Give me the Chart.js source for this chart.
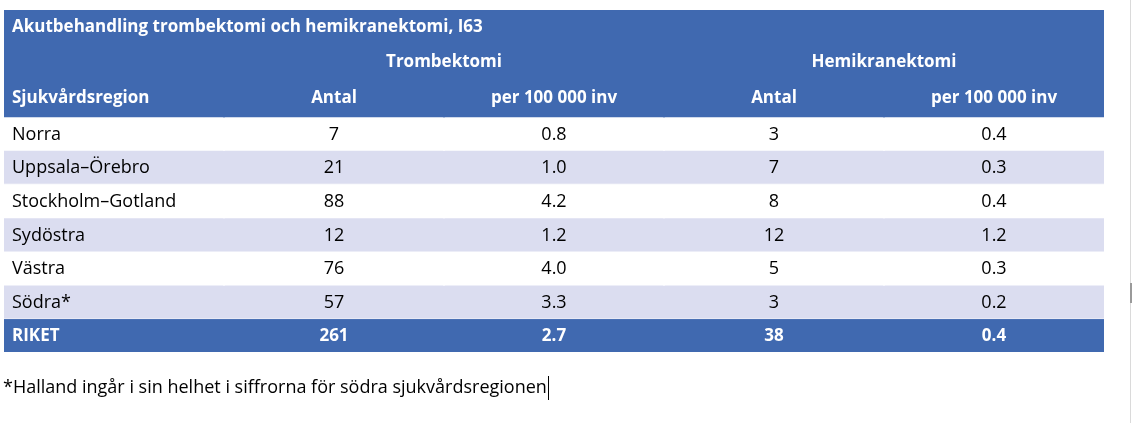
<!DOCTYPE html>
<html>
<head>
<meta charset="utf-8">
<script src="https://cdn.jsdelivr.net/npm/chart.js@4/dist/chart.umd.min.js"></script>
<style>
  html, body { margin: 0; padding: 0; background: #fff; }
  canvas { display: block; }
</style>
</head>
<body>
<canvas id="tableChart" width="1132" height="423"></canvas>
<script>
// Table data
const tableTitle = "Akutbehandling trombektomi och hemikranektomi, I63";
const groups = ["Trombektomi", "Hemikranektomi"];
const columns = ["Sjukvårdsregion", "Antal", "per 100 000 inv", "Antal", "per 100 000 inv"];
const regions = ["Norra", "Uppsala–Örebro", "Stockholm–Gotland", "Sydöstra", "Västra", "Södra*", "RIKET"];
const trombAntal = [7, 21, 88, 12, 76, 57, 261];
const trombPer = [0.8, 1.0, 4.2, 1.2, 4.0, 3.3, 2.7];
const hemiAntal = [3, 7, 8, 12, 5, 3, 38];
const hemiPer = [0.4, 0.3, 0.4, 1.2, 0.3, 0.2, 0.4];
const footnote = "*Halland ingår i sin helhet i siffrorna för södra sjukvårdsregionen";

// Styles
const colorBlue = "#4069B0";
const colorLight = "#DBDDF0";
const colorWhite = "#FFFFFF";
const fontFamily = "'Open Sans', 'Noto Sans', sans-serif";
const headerTop = -3.15; // header block height in row units
const headerLines = [-2.7, -1.64, -0.57];
const textShift = 1.5; // nudge for the font's vertical metrics

// One floating bar per cell: header block + each data row
const datasets = [
  {
    data: columns.map(() => [headerTop, 0]),
    backgroundColor: colorBlue,
    borderWidth: 0,
  },
];
regions.forEach((r, i) => {
  const isTotal = i === regions.length - 1;
  const isLight = i % 2 === 1;
  datasets.push({
    data: columns.map(() => [i, i + 1]),
    backgroundColor: isTotal ? colorBlue : isLight ? colorLight : colorWhite,
    borderColor: isTotal ? "#8DA4D4" : "#ECEDF7",
    borderWidth: isTotal || isLight ? { top: 1, bottom: 1, left: 0, right: 0 } : 0,
    borderSkipped: false,
  });
});

const cellText = {
  id: "cellText",
  afterDatasetsDraw(chart) {
    const { ctx, chartArea, scales } = chart;
    const x = scales.x;
    const y = scales.y;
    const colLeft = chartArea.left + 8;
    const rowY = (v) => y.getPixelForValue(v) + textShift;
    ctx.save();
    ctx.textBaseline = "middle";

    // Header
    ctx.fillStyle = "#FFFFFF";
    ctx.font = "bold 17px " + fontFamily;
    ctx.textAlign = "left";
    ctx.fillText(tableTitle, colLeft, rowY(headerLines[0]));

    ctx.textAlign = "center";
    groups.forEach((g, gi) => {
      const cx = (x.getPixelForValue(1 + gi * 2) + x.getPixelForValue(2 + gi * 2)) / 2;
      ctx.fillText(g, cx, rowY(headerLines[1]));
    });

    columns.forEach((c, ci) => {
      const py = rowY(headerLines[2]);
      if (ci === 0) {
        ctx.textAlign = "left";
        ctx.fillText(c, colLeft, py);
      } else {
        ctx.textAlign = "center";
        ctx.fillText(c, x.getPixelForValue(ci), py);
      }
    });

    // Body rows
    regions.forEach((r, i) => {
      const isTotal = i === regions.length - 1;
      const py = rowY(i + 0.5);
      ctx.fillStyle = isTotal ? "#FFFFFF" : "#000000";
      ctx.font = (isTotal ? "bold 17px " : "18px ") + fontFamily;
      ctx.textAlign = "left";
      ctx.fillText(r, colLeft, py);
      ctx.textAlign = "center";
      const vals = [
        String(trombAntal[i]),
        trombPer[i].toFixed(1),
        String(hemiAntal[i]),
        hemiPer[i].toFixed(1),
      ];
      vals.forEach((v, vi) => ctx.fillText(v, x.getPixelForValue(vi + 1), py));
    });

    // Footnote below the table
    ctx.fillStyle = "#000000";
    ctx.font = "18px " + fontFamily;
    ctx.textAlign = "left";
    ctx.fillText(footnote, 3, 388);
    const fw = ctx.measureText(footnote).width;
    ctx.fillRect(Math.round(3 + fw + 1), 376, 1, 24);

    // Page edge on the right
    ctx.fillStyle = "#DADADA";
    ctx.fillRect(1130, 0, 1, 423);
    ctx.fillStyle = "#9A9A9A";
    ctx.fillRect(1130, 283, 2, 20);
    ctx.restore();
  },
};

new Chart(document.getElementById("tableChart"), {
  type: "bar",
  data: { labels: columns, datasets: datasets },
  options: {
    responsive: false,
    animation: false,
    layout: { padding: { left: 4, right: 28, top: 10, bottom: 71 } },
    datasets: {
      bar: { grouped: false, barPercentage: 1, categoryPercentage: 1, inflateAmount: 1 },
    },
    plugins: { legend: { display: false }, tooltip: { enabled: false } },
    scales: {
      x: { type: "category", offset: true, display: false },
      y: { type: "linear", reverse: true, min: headerTop, max: regions.length, display: false },
    },
  },
  plugins: [cellText],
});
</script>
</body>
</html>
